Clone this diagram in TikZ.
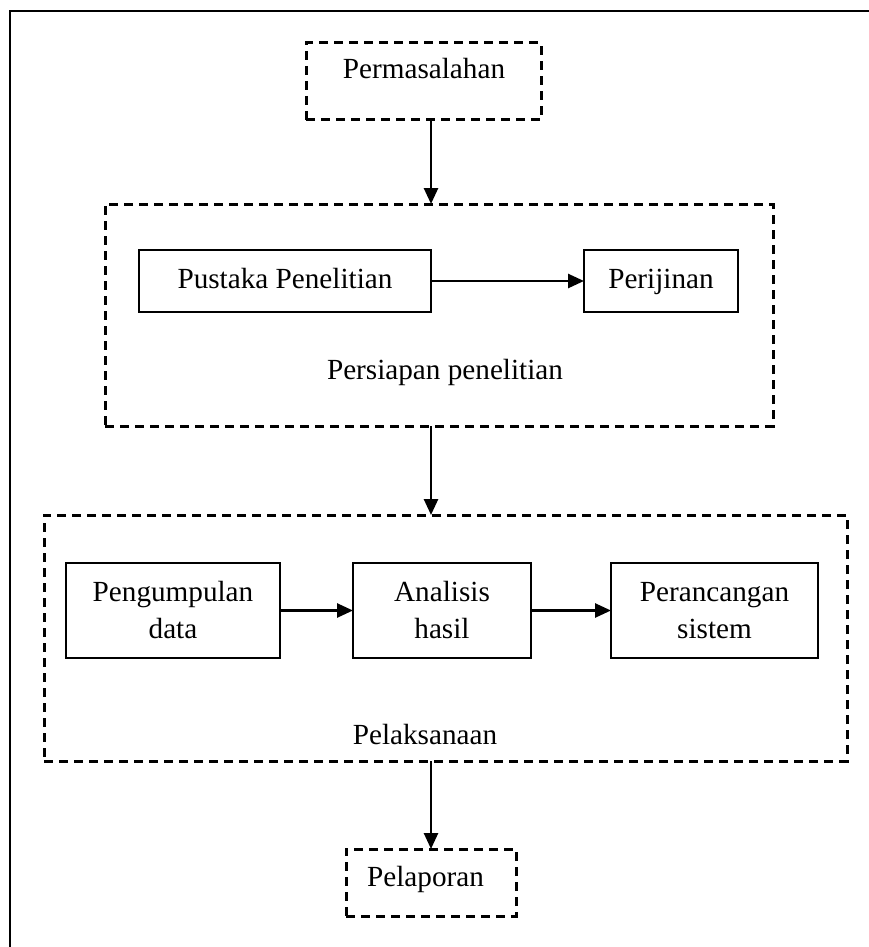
\documentclass[tikz,border=0pt]{standalone}
\usepackage{fontspec}
\setmainfont{Liberation Serif}
\usetikzlibrary{arrows.meta}

\tikzset{
  txt/.style={font=\fontsize{29.2}{37}\selectfont},
  stage/.style={draw, line width=3pt, dash pattern=on 9pt off 6pt,
    inner sep=0pt, outer sep=0pt},
  task/.style={draw, line width=2.5pt, inner sep=0pt, outer sep=0pt,
    align=center, txt},
  oneline/.style={text height=20pt, text depth=6pt},
  flow/.style={line width=2.6pt, -{Triangle[length=16pt,width=14pt]}},
  frame/.style={line width=2.6pt},
  caption/.style={txt, anchor=base, inner sep=0pt}
}

\begin{document}
\begin{tikzpicture}[x=1pt, y=-1pt]
  \useasboundingbox (0,0) rectangle (869,947);

  % page frame (top and left edges)
  \draw[frame] (10,947) -- (10,11) -- (869,11);

  % x position of the vertical flow
  \coordinate (ax) at (431,0);

  % problem statement
  \node[stage, minimum width=235pt, minimum height=77pt] (perm) at (423.5,81.5) {};
  \node[caption] (permtxt) at (424,79) {Permasalahan};

  % preparation stage
  \node[stage, minimum width=668pt, minimum height=222pt] (prep) at (439,315) {};
  \node[task, oneline, minimum width=292pt, minimum height=62pt] (pust) at (285,281) {Pustaka Penelitian};
  \node[task, oneline, minimum width=154pt, minimum height=62pt] (perij) at (661,281) {Perijinan};
  \node[caption] (preptxt) at (445,379) {Persiapan penelitian};

  % execution stage
  \node[stage, minimum width=803pt, minimum height=246pt] (pelak) at (445.5,638) {};
  \node[task, minimum width=214pt, minimum height=95pt] (pgd) at (173,610.5) {Pengumpulan\\data};
  \node[task, minimum width=178pt, minimum height=95pt] (anl) at (442,610.5) {Analisis\\hasil};
  \node[task, minimum width=207pt, minimum height=95pt] (prc) at (714.5,610.5) {Perancangan\\sistem};
  \node[caption] (pelaktxt) at (425,744) {Pelaksanaan};

  % reporting
  \node[stage, minimum width=170pt, minimum height=67pt] (lapor) at (431,882.5) {};
  \node[caption] (laportxt) at (425.5,886) {Pelaporan};

  % connectors
  \draw[flow] (perm.south -| ax) -- (prep.north -| ax);
  \draw[flow] (pust.east) -- (perij.west);
  \draw[flow] (prep.south -| ax) -- (pelak.north -| ax);
  \draw[flow] (pgd.east) -- (anl.west);
  \draw[flow] (anl.east) -- (prc.west);
  \draw[flow] (pelak.south -| ax) -- (lapor.north -| ax);
\end{tikzpicture}
\end{document}
